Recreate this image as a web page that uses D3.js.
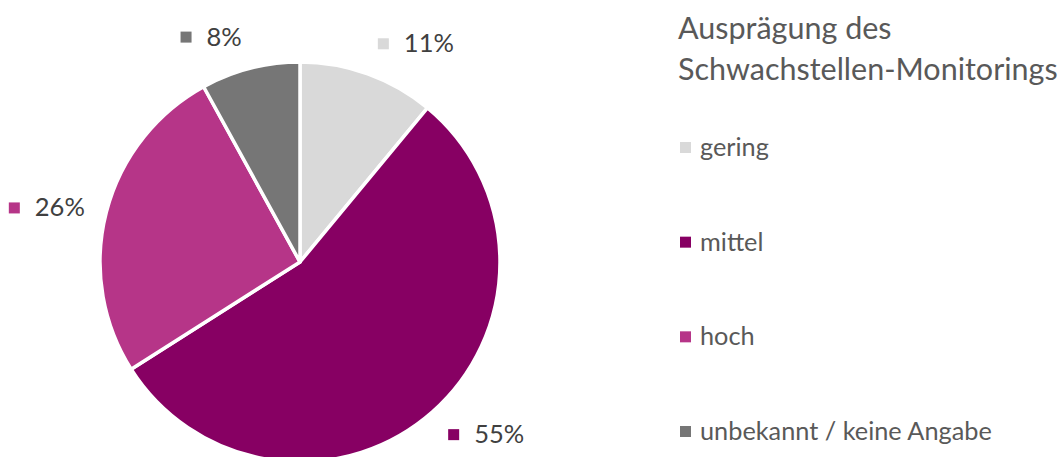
<!DOCTYPE html>
<html>
<head>
<meta charset="utf-8">
<script src="https://cdn.jsdelivr.net/npm/d3@7"></script>
<style>
  body { margin: 0; background: #fff; }
  svg text { font-family: "Source Sans Pro", Lato, "Noto Sans", sans-serif; }
</style>
</head>
<body>
<svg id="chart" width="1062" height="457"></svg>
<script>
// data
const categories = ["gering", "mittel", "hoch", "unbekannt / keine Angabe"];
const values = [11, 55, 26, 8];
const colors = ["#d9d9d9", "#870063", "#b63588", "#767676"];
const titleLines = ["Ausprägung des", "Schwachstellen-Monitorings"];

const svg = d3.select("#chart");
const cx = 300, cy = 262, radius = 200;

const rows = categories.map(function (c, i) {
  return { name: c, value: values[i], color: colors[i] };
});

const pie = d3.pie().sort(null).value(function (d) { return d.value; });
const arc = d3.arc().innerRadius(0).outerRadius(radius);

const g = svg.append("g").attr("transform", "translate(" + cx + "," + cy + ")");

const arcs = pie(rows);

g.selectAll("path.slice")
  .data(arcs)
  .enter()
  .append("path")
  .attr("class", "slice")
  .attr("d", arc)
  .attr("fill", function (d) { return d.data.color; })
  .attr("stroke", "#fff")
  .attr("stroke-width", 3.5)
  .attr("stroke-linejoin", "round");

// data labels outside the pie
const labelFont = 25.5;
const labelR = radius + 18;
arcs.forEach(function (d) {
  const mid = (d.startAngle + d.endAngle) / 2;
  const px = Math.sin(mid) * labelR;
  const py = -Math.cos(mid) * labelR;
  const lg = g.append("g");
  lg.append("rect")
    .attr("y", 4)
    .attr("width", 11)
    .attr("height", 11)
    .attr("fill", d.data.color);
  const t = lg.append("text")
    .attr("x", 26)
    .attr("y", 18)
    .attr("font-size", labelFont)
    .attr("fill", "#404040")
    .text(d.data.value + "%");
  const w = 26 + t.node().getComputedTextLength() + 4;
  const h = 24;
  const k = (1 + Math.cos(mid)) / 2;
  const left = Math.sin(mid) > 0 ? px + 4 : px - w;
  const top = py - h * k * k;
  lg.attr("transform", "translate(" + left + "," + top + ")");
});

// title
svg.append("text")
  .attr("x", 678)
  .attr("y", 39)
  .attr("font-size", 30.5)
  .attr("fill", "#595959")
  .selectAll("tspan")
  .data(titleLines)
  .enter()
  .append("tspan")
  .attr("x", 678)
  .attr("dy", function (d, i) { return i === 0 ? 0 : 41; })
  .text(function (d) { return d; });

// legend
const legendY = d3.scalePoint().domain(categories).range([148, 432]);
const legend = svg.append("g");
const items = legend.selectAll("g.item")
  .data(rows)
  .enter()
  .append("g")
  .attr("class", "item")
  .attr("transform", function (d) { return "translate(680," + legendY(d.name) + ")"; });

items.append("rect")
  .attr("y", -6)
  .attr("width", 11)
  .attr("height", 11)
  .attr("fill", function (d) { return d.color; });

items.append("text")
  .attr("x", 20)
  .attr("y", 8)
  .attr("font-size", 25.3)
  .attr("fill", "#595959")
  .text(function (d) { return d.name; });
</script>
</body>
</html>
